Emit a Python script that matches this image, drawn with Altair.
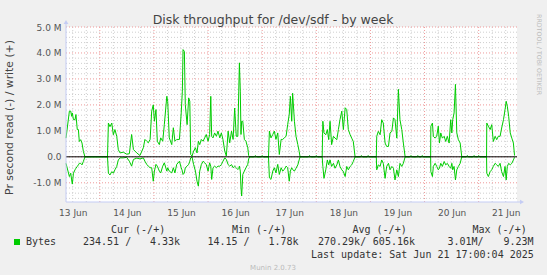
import json
import altair as alt
import pandas as pd

# ---- data: (hours since 13 Jun 09:00, write MB/s, read MB/s as negative) ----
seg_13jun = [
    (0.0, .72, -.25), (1.5, 1.76, -.76), (2.1, 1.76, -.63), (2.5, 1.56, -.89), (2.8, 1.69, -1.05),
    (3.3, 1.43, -.63), (4.0, 1.43, -.50), (4.4, 1.63, -.44), (5.0, 1.05, -.37), (5.5, 1.05, -.31),
    (5.9, .59, -.25), (6.5, .66, -.25), (7.1, .53, -.31), (7.7, .21, -.18), (8.4, 0, 0)]
seg_14jun = [
    (18.4, 0, 0), (18.8, 1.30, -.63), (19.5, 1.16, -.70), (20.3, 1.30, -.57), (21.0, .85, -.63),
    (21.7, 1.05, -.50), (22.5, .79, -.37), (23.2, .27, -.12), (24.0, .15, -.04), (25.4, .18, -.04),
    (26.9, .10, -.02), (28.1, .12, -.17), (29.1, .86, -.36), (29.9, .28, -.10), (31.4, .15, -.05),
    (32.8, .05, -.08), (34.3, .35, -.04), (35.0, .67, -.17), (35.8, .60, -.29), (36.5, .54, -.36),
    (37.3, .67, -.42), (38.0, 1.76, -.42), (38.7, 2.00, -.94), (39.2, 1.37, -.55), (39.9, 1.82, -.29),
    (40.5, .60, -.36), (41.4, .47, -.55), (42.0, .73, -.62), (42.9, .60, -.36), (43.6, 1.24, -.23),
    (44.7, 2.33, -.55), (45.1, 2.14, -.42), (45.8, .73, -.55), (46.9, .47, -.62), (47.6, 1.12, -.42),
    (48.3, .60, -.62), (49.1, .67, -.29), (50.3, .67, -.17)]
seg_15jun = [
    (51.1, 1.69, -.42), (51.6, 2.53, -.55), (51.9, 4.13, -.68), (52.5, 4.06, -.62), (52.9, 2.01, -.42),
    (53.7, 1.24, -.36), (54.4, 2.27, -.29), (54.9, 2.14, -.17), (55.3, .09, -.04), (55.9, .03, -.01),
    (56.6, .22, -.30), (57.4, .35, -.55), (58.1, .15, -.94), (58.7, .60, -1.13), (59.3, .47, -.55),
    (60.0, .67, -.30), (60.8, .60, -.17), (61.5, .73, -.23), (62.2, .86, -.30), (63.0, .60, -.55),
    (63.7, .86, -.23), (64.2, 2.33, -.36), (64.6, .79, -.87), (65.2, .73, -.42), (65.9, .92, -.36),
    (66.7, .79, -.42), (67.4, .99, -.36), (68.2, .73, -.36), (68.9, .92, -.30), (69.6, .67, -.17),
    (70.4, .22, -.04), (71.1, .03, -.10), (71.9, .99, -.30), (72.6, .54, -.36), (73.4, .99, -.30),
    (74.1, .67, -.42), (74.8, 1.88, -.36), (75.5, .79, -.42)]
seg_16jun = [
    (76.2, .79, -.49), (76.6, 2.50, -.45), (76.9, 3.62, -.36), (77.3, 2.53, -.55), (77.6, .86, -1.19),
    (77.9, 1.37, -1.51), (78.4, 1.37, -.68), (79.1, .67, -.55), (79.8, .60, -.42), (80.6, .35, -.29),
    (81.0, .05, -.08), (81.5, 0, 0),
    (83.5, 0, 0), (84.0, .05, 0), (84.5, 0, 0), (86.5, 0, 0), (87.0, .05, 0), (87.5, 0, 0)]
seg_17jun = [
    (89.8, 0, 0), (90.2, .99, -.81), (90.9, .73, -.87), (91.7, .86, -.55), (92.4, .99, -.42),
    (93.1, .67, -.62), (93.9, .92, -.29), (94.6, .09, -.68), (95.4, .67, -.42), (96.1, .67, -.55),
    (96.8, .73, -.49), (97.6, .79, -.36), (98.3, 1.24, -.42), (99.0, 1.63, -.94), (99.5, 2.33, -.55),
    (100.1, 1.37, -.42), (100.5, 2.45, -.49), (101.3, 1.37, -.55), (102.0, .79, -.44), (102.8, .47, -.31),
    (103.4, .21, -.12), (103.8, 0, 0),
    (107.5, 0, 0), (108.0, .05, 0), (108.5, 0, 0), (110.5, 0, 0), (111.0, .05, 0), (111.5, 0, 0)]
seg_18jun = [
    (113.6, 0, 0), (113.9, 1.37, -.37), (114.4, .92, -.83), (115.2, .85, -.50), (115.9, 1.05, -.12),
    (116.5, .66, -.31), (117.1, 1.37, -.12), (117.8, .47, -.37), (118.6, .79, -.25), (119.3, .72, -.44),
    (120.1, .66, -.31), (120.8, 1.05, -.12), (121.5, 1.43, -.37), (122.3, 1.76, -.50), (123.0, 1.05, -.57),
    (123.8, 1.89, -.76), (124.5, 1.82, -.37), (125.2, 1.05, -.50), (126.0, .85, -.37), (126.7, .72, -.31),
    (127.4, .59, -.18), (128.2, 0, 0),
    (130.5, 0, 0), (131.0, .05, 0), (131.5, 0, 0), (133.5, 0, 0), (134.0, .05, 0), (134.5, 0, 0)]
seg_19jun = [
    (137.6, 0, 0), (137.8, .79, -.50), (138.5, .98, -.31), (139.3, .85, -.37), (140.0, 1.43, -.12),
    (140.7, 1.30, -.25), (141.5, .53, -.83), (142.2, .40, -.37), (143.0, .40, -.25), (143.7, .92, -.50),
    (144.5, .98, -.37), (145.2, 1.50, -.44), (145.9, 1.43, -.89), (146.7, .72, -.50), (147.4, 2.60, -.76),
    (148.1, 1.43, -.25), (148.9, 1.05, -.37), (149.6, .53, -.25), (150.4, 0, 0),
    (152.5, 0, 0), (153.0, .05, 0), (153.5, 0, 0), (155.5, 0, 0), (156.0, .05, 0), (156.5, 0, 0),
    (157.5, 0, 0), (158.0, .05, 0), (158.5, 0, 0)]
seg_20jun = [
    (161.7, 0, 0), (161.8, 1.18, -.57), (162.5, 1.30, -.76), (162.9, .79, -.37), (163.7, .72, -.25),
    (164.4, .79, -.37), (165.1, 1.18, -.50), (165.6, .53, -.44), (166.2, .92, -.25), (166.9, .72, -.37),
    (167.7, .79, -.18), (168.4, .59, -.31), (169.1, .79, -.25), (169.9, .53, -.37), (170.6, 1.43, -.44),
    (171.1, .92, -.25), (171.5, 1.43, -.50), (172.1, 1.69, -.37), (172.7, 2.79, -.89), (173.3, .92, -.50),
    (174.0, .66, -.37), (174.8, .53, -.25), (175.5, 0, 0),
    (177.5, 0, 0), (178.0, .05, 0), (178.5, 0, 0), (180.5, 0, 0), (181.0, .05, 0), (181.5, 0, 0),
    (182.5, 0, 0), (183.0, .05, 0), (183.5, 0, 0)]
seg_21jun = [
    (186.5, 0, 0), (186.6, 1.30, -.63), (187.3, 1.18, -.76), (188.1, 1.05, -.57), (188.8, 1.24, -.50),
    (189.5, .59, -.37), (190.3, .79, -.25), (191.0, .66, -.31), (191.7, .79, -.37), (192.5, .79, -.25),
    (193.2, 1.11, -.57), (194.0, 1.43, -.76), (194.7, 1.82, -.37), (195.2, 2.14, -.89), (195.7, 1.95, -.37),
    (196.3, 1.56, -.25), (197.0, .92, -.31), (197.7, .72, -.25), (198.4, .53, -.12), (198.9, .05, -.02)]

x_label_hours = [3, 27, 51, 75, 99, 123, 147, 171, 195]
x_labels = ["13 Jun", "14 Jun", "15 Jun", "16 Jun", "17 Jun", "18 Jun", "19 Jun", "20 Jun", "21 Jun"]
midnight_hours = [15, 39, 63, 87, 111, 135, 159, 183]
minor_hours = [h for h in range(3, 200, 6) if h not in midnight_hours]
y_tick_values = [-1, 0, 1, 2, 3, 4, 5]
y_tick_labels = ["-1.0 M", "0.0", "1.0 M", "2.0 M", "3.0 M", "4.0 M", "5.0 M"]
y_minor = [v / 10 for v in range(-16, 50, 2) if v % 10 != 0]

title_text = "Disk throughput for /dev/sdf - by week"
y_title_text = "Pr second read (-) / write (+)"
legend_name = "Bytes"
legend_headers = ["Cur (-/+)", "Min (-/+)", "Avg (-/+)", "Max (-/+)"]
legend_left = ["234.51 /", "14.15 /", "270.29k/", "3.01M/"]
legend_right = ["4.33k", "1.78k", "605.16k", "9.23M"]
last_update = "Last update: Sat Jun 21 17:00:04 2025"
footer = "Munin 2.0.73"
side_text = "RRDTOOL / TOBI OETIKER"

rows = seg_13jun + seg_14jun + seg_15jun + seg_16jun + seg_17jun + seg_18jun + seg_19jun + seg_20jun + seg_21jun
df = pd.DataFrame(rows, columns=["h", "write", "read"])

W, H = 451, 175
GREEN = "#00CC00"
AXC = "#C4CCF4"
xs = alt.Scale(domain=[0, 200], nice=False, zero=False)
ys = alt.Scale(domain=[-1.74, 5.0], nice=False, zero=False)

x_axis = alt.Axis(values=x_label_hours,
                  labelExpr=f"{json.dumps(x_labels)}[round((datum.value - 3) / 24)]",
                  domain=False, ticks=False, grid=False, labelFont="DejaVu Sans",
                  labelFontSize=9, labelColor="#555555", labelPadding=6,
                  labelFlush=False, labelOverlap=False, title=None)
y_axis = alt.Axis(values=y_tick_values,
                  labelExpr=f"{json.dumps(y_tick_labels)}[round(datum.value) + 1]",
                  domain=False, ticks=False, grid=False, labelFont="DejaVu Sans",
                  labelFontSize=9, labelColor="#555555", labelPadding=5,
                  labelOverlap=False, title=None)

one = alt.Data(values=[{}])


def X(field):
    return alt.X(field, scale=xs, axis=x_axis)


def Y(field):
    return alt.Y(field, scale=ys, axis=y_axis)


minor_v = alt.Chart(pd.DataFrame({"h": minor_hours})).mark_rule(
    color="#CFCFCF", strokeDash=[1, 2], strokeWidth=1).encode(x=X("h:Q"))
minor_h = alt.Chart(pd.DataFrame({"v": y_minor})).mark_rule(
    color="#CFCFCF", strokeDash=[1, 2], strokeWidth=1).encode(y=Y("v:Q"))
major_v = alt.Chart(pd.DataFrame({"h": midnight_hours})).mark_rule(
    color="#EE9A9A", strokeDash=[1, 2], strokeWidth=1).encode(x=X("h:Q"))
major_h = alt.Chart(pd.DataFrame({"v": y_tick_values})).mark_rule(
    color="#EE9A9A", strokeDash=[1, 2], strokeWidth=1).encode(y=Y("v:Q"))

write_line = alt.Chart(df).mark_line(color=GREEN, strokeWidth=1).encode(x=X("h:Q"), y=Y("write:Q"))
read_line = alt.Chart(df).mark_line(color=GREEN, strokeWidth=1).encode(x=X("h:Q"), y=Y("read:Q"))

zero_line = alt.Chart(pd.DataFrame({"v": [0]})).mark_rule(color="#000000", strokeWidth=1).encode(y=Y("v:Q"))

left_axis = alt.Chart(one).mark_rule(color=AXC, strokeWidth=1).encode(
    x=alt.value(0), y=alt.value(-5), y2=alt.value(H))
bottom_axis = alt.Chart(one).mark_rule(color=AXC, strokeWidth=1).encode(
    x=alt.value(0), x2=alt.value(W + 5), y=alt.value(H))
up_arrow = alt.Chart(one).mark_point(shape="triangle-up", filled=True, size=22, color=AXC, opacity=1).encode(
    x=alt.value(0), y=alt.value(-5))
right_arrow = alt.Chart(one).mark_point(shape="triangle-right", filled=True, size=22, color=AXC, opacity=1).encode(
    x=alt.value(W + 5), y=alt.value(H))


def txt(s, x, y, size=10, font="DejaVu Sans Mono", color="#333333", align="left", angle=None):
    kw = dict(text=s, font=font, fontSize=size, color=color, align=align, baseline="middle")
    if angle is not None:
        kw["angle"] = angle
    return alt.Chart(one).mark_text(**kw).encode(x=alt.value(x), y=alt.value(y))


OX, OY = 66, 27  # plot origin in canvas pixels
texts = [
    txt(title_text, 273 - OX, 20 - OY, size=12.5, font="DejaVu Sans", color="#444444", align="center"),
    txt(y_title_text, 10 - OX, 117.5 - OY, size=10.8, font="DejaVu Sans", color="#444444",
        align="center", angle=270),
    txt(side_text, 539 - OX, 14 - OY, size=6.3, font="DejaVu Sans", color="#BBBBBB", angle=90),
    txt(footer, 273 - OX, 267.5 - OY, size=7, font="DejaVu Sans", color="#BBBBBB", align="center"),
    txt(legend_name, 26 - OX, 241.5 - OY),
    txt(last_update, 311 - OX, 254.5 - OY),
]
for hx, s in zip([111, 232, 352.5, 472.5], legend_headers):
    texts.append(txt(s, hx - OX, 229.5 - OY))
for lx, s in zip([83, 207.5, 318, 447.5], legend_left):
    texts.append(txt(s, lx - OX, 241.5 - OY))
for rx, s in zip([180, 298.5, 415, 533.5], legend_right):
    texts.append(txt(s, rx - OX, 241.5 - OY, align="right"))

legend_box = alt.Chart(one).mark_rect(color=GREEN).encode(
    x=alt.value(14 - OX), x2=alt.value(20 - OX), y=alt.value(239 - OY), y2=alt.value(245 - OY))

chart = alt.layer(
    minor_v, minor_h, major_v, major_h, write_line, read_line, zero_line,
    left_axis, bottom_axis, up_arrow, right_arrow, legend_box, *texts
).properties(
    width=W, height=H,
    autosize=alt.AutoSizeParams(type="none"),
    padding={"left": OX, "top": OY, "right": 547 - OX - W, "bottom": 275 - OY - H},
    background="#F0F0F0",
).configure_view(fill="#FFFFFF", stroke=None)

chart.save("out.html", embed_options={"renderer": "svg", "actions": False})
